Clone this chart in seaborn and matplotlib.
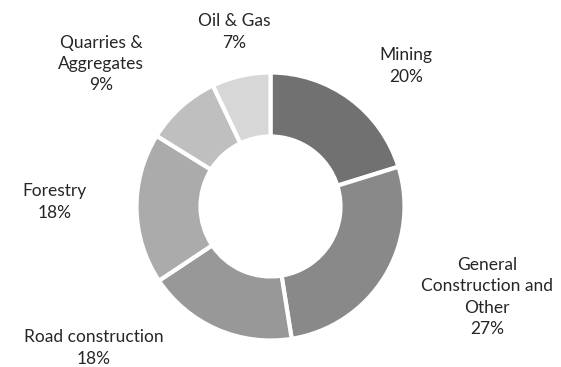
import matplotlib
matplotlib.use("Agg")
import matplotlib.pyplot as plt
import seaborn as sns

# Share of demand by sector (percent)
sectors = ["Mining", "General\nConstruction and\nOther", "Road construction",
           "Forestry", "Quarries &\nAggregates", "Oil & Gas"]
shares = [20, 27, 18, 18, 9, 7]
shades = ["#717171", "#898989", "#989898", "#ababab", "#bfbfbf", "#d7d7d7"]

# Label block centres in pixel space (x from left, y from top)
label_xy = [(406, 66), (487, 297), (94, 348), (55, 202), (101, 64), (234, 32)]

sns.set_theme(style="white")
plt.rcParams["font.family"] = ["Lato", "DejaVu Sans"]

W, H = 561, 367
fig = plt.figure(figsize=(W / 100, H / 100), dpi=100)
ax = fig.add_axes([0, 0, 1, 1])

radius = 134
ax.pie(shares, colors=sns.color_palette(shades), startangle=90, counterclock=False,
       center=(270.5, H - 206.5), radius=radius, frame=True,
       wedgeprops=dict(width=64, edgecolor="white", linewidth=3))
ax.set_xlim(0, W)
ax.set_ylim(0, H)
ax.set_aspect("equal")
ax.axis("off")

for name, val, (x, y) in zip(sectors, shares, label_xy):
    ax.text(x, H - y, f"{name}\n{val}%", ha="center", va="center",
            fontsize=12.5, color="#262626", linespacing=1.42)

fig.savefig("out.png", dpi=100, facecolor="white")
